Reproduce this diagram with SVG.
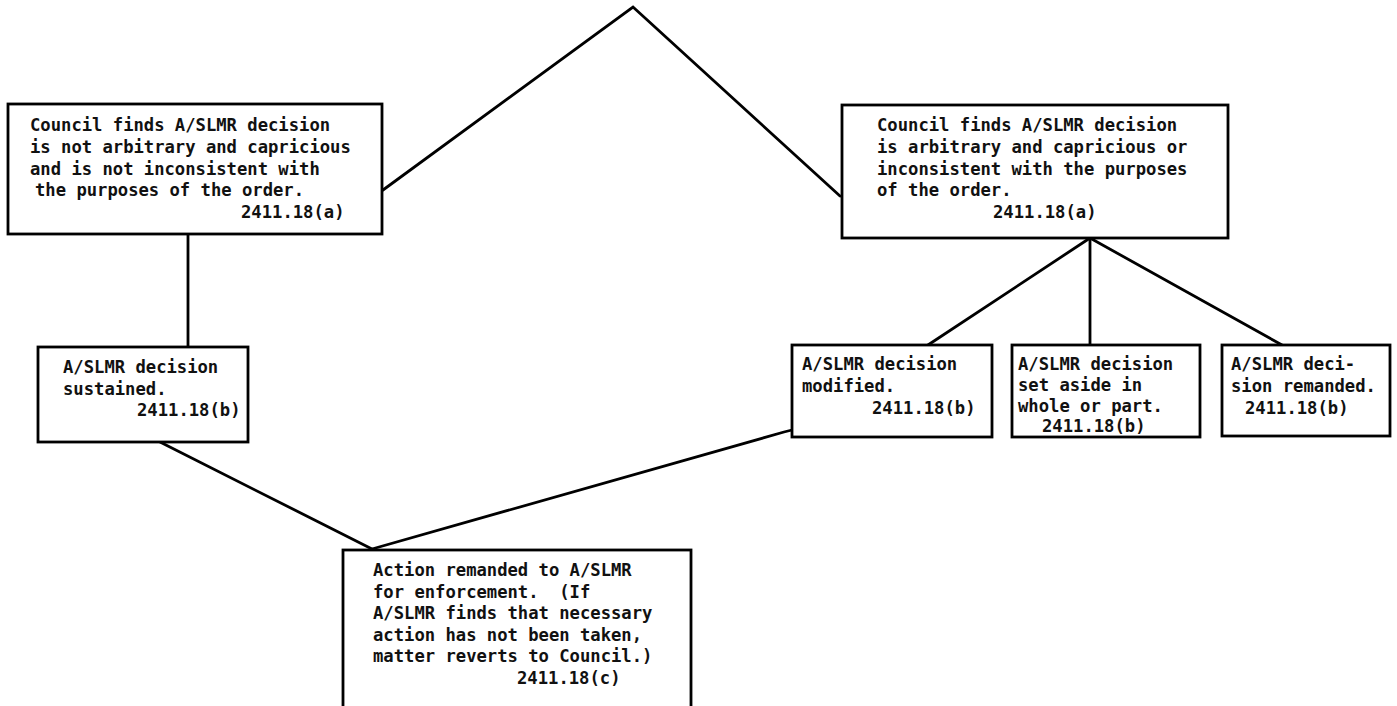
<svg xmlns="http://www.w3.org/2000/svg" width="1397" height="706" viewBox="0 0 1397 706">
  <style>
    .box { fill: #fff; stroke: #000; stroke-width: 2.8; }
    .edge { fill: none; stroke: #000; stroke-width: 2.8; stroke-linecap: round; }
    text { font-family: "DejaVu Sans Mono", "Liberation Mono", monospace; font-weight: bold; font-size: 17.2px; fill: #111; white-space: pre; }
  </style>
  <rect width="1397" height="706" fill="#fff"/>

  <!-- connectors -->
  <g id="connectors">
    <polyline class="edge" points="383,190 633,7 840,196"/>
    <line class="edge" x1="188" y1="235" x2="188" y2="347"/>
    <line class="edge" x1="1090" y1="238" x2="928" y2="345"/>
    <line class="edge" x1="1090" y1="238" x2="1090" y2="345"/>
    <line class="edge" x1="1090" y1="238" x2="1282" y2="345"/>
    <line class="edge" x1="160" y1="442" x2="372" y2="549"/>
    <polyline class="edge" points="372,549 784,432 792,430"/>
  </g>

  <g id="not-arbitrary">
    <rect class="box" x="8" y="104" width="374" height="130"/>
    <text x="30" y="131">Council finds A/SLMR decision</text>
    <text x="30" y="153">is not arbitrary and capricious</text>
    <text x="30" y="175">and is not inconsistent with</text>
    <text x="35" y="196">the purposes of the order.</text>
    <text x="241" y="218">2411.18(a)</text>
  </g>

  <g id="arbitrary">
    <rect class="box" x="842" y="105" width="386" height="133"/>
    <text x="877" y="131">Council finds A/SLMR decision</text>
    <text x="877" y="153">is arbitrary and capricious or</text>
    <text x="877" y="175">inconsistent with the purposes</text>
    <text x="877" y="196">of the order.</text>
    <text x="993" y="218">2411.18(a)</text>
  </g>

  <g id="sustained">
    <rect class="box" x="38" y="347" width="210" height="95"/>
    <text x="63" y="373">A/SLMR decision</text>
    <text x="63" y="395">sustained.</text>
    <text x="137" y="416">2411.18(b)</text>
  </g>

  <g id="modified">
    <rect class="box" x="792" y="345" width="200" height="92"/>
    <text x="802" y="370">A/SLMR decision</text>
    <text x="802" y="392">modified.</text>
    <text x="872" y="414">2411.18(b)</text>
  </g>

  <g id="set-aside">
    <rect class="box" x="1012" y="345" width="188" height="92"/>
    <text x="1018" y="370">A/SLMR decision</text>
    <text x="1018" y="391">set aside in</text>
    <text x="1018" y="412">whole or part.</text>
    <text x="1042" y="432">2411.18(b)</text>
  </g>

  <g id="remanded">
    <rect class="box" x="1222" y="345" width="168" height="91"/>
    <text x="1231" y="370">A/SLMR deci-</text>
    <text x="1231" y="392">sion remanded.</text>
    <text x="1245" y="414">2411.18(b)</text>
  </g>

  <g id="enforcement">
    <rect class="box" x="343" y="550" width="348" height="160"/>
    <text x="373" y="576">Action remanded to A/SLMR</text>
    <text x="373" y="598">for enforcement.&#160; (If</text>
    <text x="373" y="619">A/SLMR finds that necessary</text>
    <text x="373" y="641">action has not been taken,</text>
    <text x="373" y="662">matter reverts to Council.)</text>
    <text x="517" y="684">2411.18(c)</text>
  </g>
</svg>
